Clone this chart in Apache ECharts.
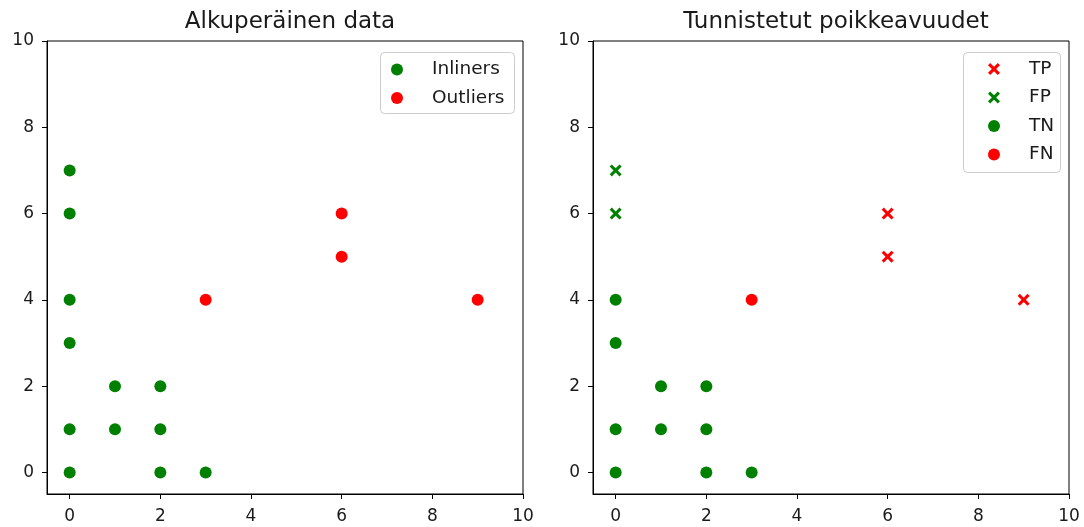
<!DOCTYPE html>
<html>
<head>
<meta charset="utf-8">
<script src="https://cdn.jsdelivr.net/npm/echarts@6/dist/echarts.min.js"></script>
<style>
  html, body { margin: 0; padding: 0; background: #fff; }
  #chart { width: 1084px; height: 527px; }
</style>
</head>
<body>
<div id="chart"></div>
<script>
// Original data: inliers and outliers
const inliers = [[0,7],[0,6],[0,4],[0,3],[0,1],[0,0],[1,2],[1,1],[2,2],[2,1],[2,0],[3,0]];
const outliers = [[3,4],[6,6],[6,5],[9,4]];

// Detection results
const truePos = [[6,6],[6,5],[9,4]];
const falsePos = [[0,7],[0,6]];
const trueNeg = [[0,4],[0,3],[0,1],[0,0],[1,2],[1,1],[2,2],[2,1],[2,0],[3,0]];
const falseNeg = [[3,4]];

const tickValues = [0, 2, 4, 6, 8, 10];
const titles = ['Alkuperäinen data', 'Tunnistetut poikkeavuudet'];

const GREEN = '#008000';
const RED = '#ff0000';
const FONT = 'DejaVu Sans';
const TEXT = '#1a1a1a';
const CROSS = 'path://M0,1.8L1.8,0L5,3.2L8.2,0L10,1.8L6.8,5L10,8.2L8.2,10L5,6.8L1.8,10L0,8.2L3.2,5Z';

const grids = [
  { left: 47, top: 41, width: 476, height: 453 },
  { left: 593, top: 41, width: 476, height: 453 }
];

function axis(idx, isX) {
  return {
    type: 'value',
    gridIndex: idx,
    min: -0.5,
    max: 10,
    axisLine: { show: true, onZero: false, lineStyle: { color: '#000', width: 1 } },
    axisTick: { show: true, customValues: tickValues, length: 5, lineStyle: { color: '#000', width: 1 } },
    axisLabel: { customValues: tickValues, color: TEXT, fontFamily: FONT, fontSize: 17, margin: isX ? 14 : 13 },
    splitLine: { show: false }
  };
}

function scatter(name, data, idx, symbol, color, size) {
  return {
    type: 'scatter', name, data,
    xAxisIndex: idx, yAxisIndex: idx,
    symbol, symbolSize: size,
    itemStyle: { color, opacity: 1 },
    emphasis: { disabled: true },
    silent: true
  };
}

const legendBase = {
  orient: 'vertical',
  itemWidth: 60,
  itemHeight: 12,
  itemGap: 9.5,
  padding: 0,
  symbolKeepAspect: true,
  selectedMode: false,
  textStyle: { color: TEXT, fontFamily: FONT, fontSize: 18.5 }
};

const option = {
  animation: false,
  backgroundColor: '#fff',
  title: titles.map((t, i) => ({
    text: t,
    left: grids[i].left + grids[i].width / 2,
    top: 6,
    textAlign: 'center',
    textStyle: { color: TEXT, fontFamily: FONT, fontSize: 23, fontWeight: 'normal' }
  })),
  grid: grids.map(g => Object.assign({ show: true, borderColor: '#000', borderWidth: 1, backgroundColor: 'transparent' }, g)),
  xAxis: [axis(0, true), axis(1, true)],
  yAxis: [axis(0, false), axis(1, false)],
  graphic: [
    { type: 'rect', shape: { x: 380.5, y: 52.5, width: 134, height: 61, r: 4 }, style: { fill: 'rgba(255,255,255,0.8)', stroke: '#cccccc', lineWidth: 1 }, z: 5 },
    { type: 'rect', shape: { x: 963.5, y: 52.5, width: 97, height: 120, r: 4 }, style: { fill: 'rgba(255,255,255,0.8)', stroke: '#cccccc', lineWidth: 1 }, z: 5 }
  ],
  legend: [
    Object.assign({}, legendBase, { left: 391, top: 60, data: ['Inliners', 'Outliers'], z: 10 }),
    Object.assign({}, legendBase, { left: 988, top: 59.5, data: ['TP', 'FP', 'TN', 'FN'], z: 10 })
  ],
  series: [
    scatter('Inliners', inliers, 0, 'circle', GREEN, 12),
    scatter('Outliers', outliers, 0, 'circle', RED, 12),
    scatter('TP', truePos, 1, CROSS, RED, 12),
    scatter('FP', falsePos, 1, CROSS, GREEN, 12),
    scatter('TN', trueNeg, 1, 'circle', GREEN, 12),
    scatter('FN', falseNeg, 1, 'circle', RED, 12)
  ]
};

const chart = echarts.init(document.getElementById('chart'), null, { renderer: 'canvas' });
chart.setOption(option);
</script>
</body>
</html>
